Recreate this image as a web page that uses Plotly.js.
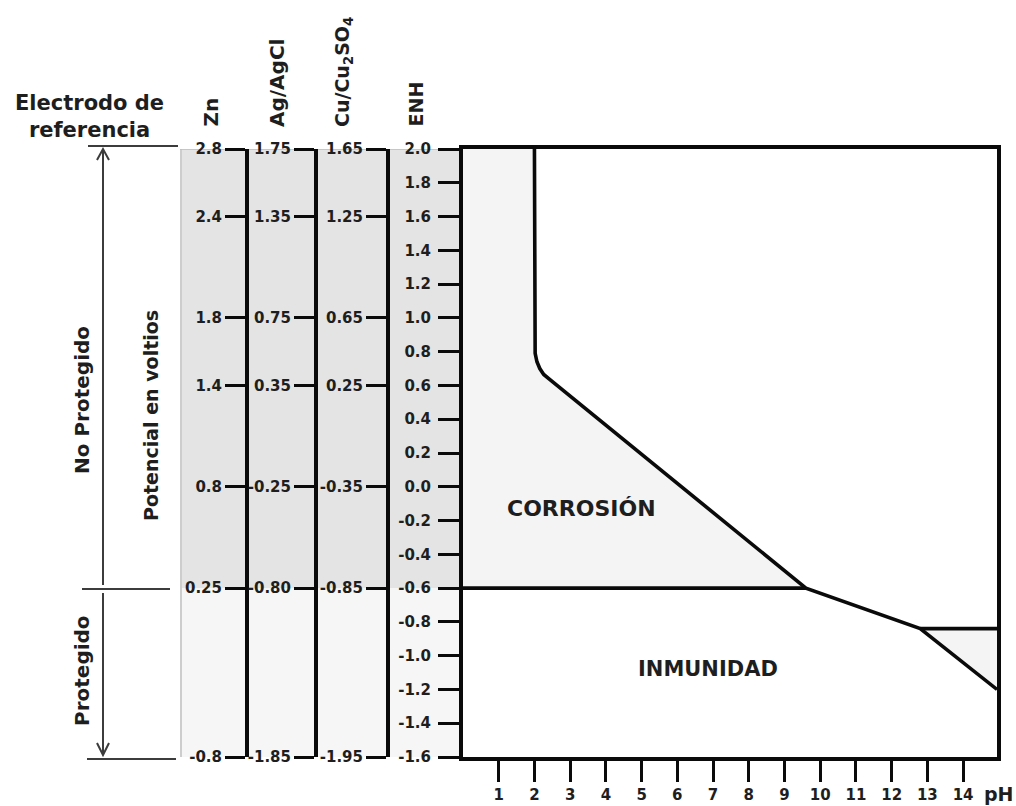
<!DOCTYPE html>
<html>
<head>
<meta charset="utf-8">
<script src="https://cdn.plot.ly/plotly-3.0.1.min.js"></script>
<style>
  html, body { margin: 0; padding: 0; background: #ffffff; }
  #chart { width: 1016px; height: 806px; }
</style>
</head>
<body>
<div id="chart"></div>
<script>
// pH axis ticks
const phTicks = [1, 2, 3, 4, 5, 6, 7, 8, 9, 10, 11, 12, 13, 14];

// Potential against the standard hydrogen electrode (ENH), volts
const enhTicks = [2.0, 1.8, 1.6, 1.4, 1.2, 1.0, 0.8, 0.6, 0.4, 0.2, 0.0,
                  -0.2, -0.4, -0.6, -0.8, -1.0, -1.2, -1.4, -1.6];

// Reference-electrode scales: ENH level of each mark and its label
const refLevels = [2.0, 1.6, 1.0, 0.6, 0.0, -0.6, -1.6];
const znLabels = ["2.8", "2.4", "1.8", "1.4", "0.8", "0.25", "-0.8"];
const agLabels = ["1.75", "1.35", "0.75", "0.35", "-0.25", "-0.80", "-1.85"];
const cuLabels = ["1.65", "1.25", "0.65", "0.25", "-0.35", "-0.85", "-1.95"];

// Corrosion / immunity boundary (pH, ENH volts)
const boundaryPH = [2.0, 2.0, 2.02, 2.07, 2.15, 2.26, 2.4, 9.6, 12.8, 14.95];
const boundaryE  = [2.0, 0.85, 0.79, 0.74, 0.70, 0.665, 0.64, -0.6, -0.84, -1.2];

// Protection limit at -0.6 V
const limitPH = [0, 9.6];
const limitE  = [-0.6, -0.6];

// Upper edge of the alkaline corrosion wedge
const wedgePH = [12.8, 14.95, 14.95];
const wedgeE  = [-0.84, -0.84, -1.2];

const W = 1016, H = 806;
const px = x => x / W;
const py = y => 1 - y / H;

const FONT = "DejaVu Sans, Verdana, sans-serif";
const INK = "#1e1e1e";
const boldFont = (size) => ({ family: FONT, size: size, color: INK, weight: "bold" });

// Corrosion region: left of the boundary down to the -0.6 V limit
const corrIdx = boundaryPH.indexOf(9.6);
const corrX = [0].concat(boundaryPH.slice(0, corrIdx + 1), [0]);
const corrY = [2.0].concat(boundaryE.slice(0, corrIdx + 1), [-0.6]);

const traces = [
  { x: corrX, y: corrY, mode: "lines", fill: "toself", fillcolor: "#f4f4f4",
    line: { width: 0 }, hoverinfo: "skip", showlegend: false },
  { x: wedgePH, y: wedgeE, mode: "lines", fill: "toself", fillcolor: "#f4f4f4",
    line: { width: 0 }, hoverinfo: "skip", showlegend: false },
  { x: boundaryPH, y: boundaryE, mode: "lines",
    line: { color: "#0a0a0a", width: 3.6 }, hoverinfo: "skip", showlegend: false },
  { x: limitPH, y: limitE, mode: "lines",
    line: { color: "#0a0a0a", width: 3.6 }, hoverinfo: "skip", showlegend: false },
  { x: wedgePH.slice(0, 2), y: wedgeE.slice(0, 2), mode: "lines",
    line: { color: "#0a0a0a", width: 3.6 }, hoverinfo: "skip", showlegend: false },
  // the three reference-electrode scales share the ENH range
  { x: [null], y: [null], yaxis: "y2", mode: "markers", hoverinfo: "skip", showlegend: false },
  { x: [null], y: [null], yaxis: "y3", mode: "markers", hoverinfo: "skip", showlegend: false },
  { x: [null], y: [null], yaxis: "y4", mode: "markers", hoverinfo: "skip", showlegend: false }
];

const yDomain = [py(757), py(149)];
const yRange = [-1.6, 2.0];

function refAxis(pos, labels) {
  return {
    overlaying: "y", anchor: "free", position: pos, side: "left",
    range: yRange, tickmode: "array", tickvals: refLevels, ticktext: labels,
    ticks: "outside", ticklen: 20, tickwidth: 3, tickcolor: "#0a0a0a",
    showline: true, linewidth: 4, linecolor: "#0a0a0a",
    showgrid: false, zeroline: false, fixedrange: true,
    tickfont: boldFont(15), ticklabelstandoff: 0
  };
}

const shapes = [
  // reference band behind the scales
  { type: "rect", xref: "paper", yref: "y", x0: px(180), x1: px(461), y0: -0.6, y1: 2.0,
    fillcolor: "#e4e4e4", line: { width: 0 }, layer: "below" },
  { type: "rect", xref: "paper", yref: "y", x0: px(180), x1: px(461), y0: -1.6, y1: -0.6,
    fillcolor: "#f6f6f6", line: { width: 0 }, layer: "below" },
  { type: "line", xref: "paper", yref: "y", x0: px(181), x1: px(181), y0: -1.6, y1: 2.0,
    line: { color: "#cdcdcd", width: 2 }, layer: "below" },
  { type: "line", xref: "paper", yref: "y", x0: px(180), x1: px(461), y0: 2.0, y1: 2.0,
    line: { color: "#bdbdbd", width: 1.5 }, layer: "below" },
  // guide lines of the protection legend
  { type: "line", xref: "paper", yref: "paper", x0: px(88), x1: px(178), y0: py(146), y1: py(146),
    line: { color: "#3c3c3c", width: 2 } },
  { type: "line", xref: "paper", yref: "paper", x0: px(82), x1: px(170), y0: py(589), y1: py(589),
    line: { color: "#3c3c3c", width: 2 } },
  { type: "line", xref: "paper", yref: "paper", x0: px(87), x1: px(176), y0: py(759), y1: py(759),
    line: { color: "#3c3c3c", width: 2 } },
  { type: "line", xref: "paper", yref: "paper", x0: px(103), x1: px(103), y0: py(149), y1: py(585),
    line: { color: "#3c3c3c", width: 2 } },
  { type: "line", xref: "paper", yref: "paper", x0: px(103), x1: px(103), y0: py(593), y1: py(755),
    line: { color: "#3c3c3c", width: 2 } },
  // arrow heads
  { type: "path", xref: "paper", yref: "paper",
    path: `M ${px(97)} ${py(160)} L ${px(103)} ${py(149)} L ${px(109)} ${py(160)}`,
    line: { color: "#3c3c3c", width: 2 } },
  { type: "path", xref: "paper", yref: "paper",
    path: `M ${px(97)} ${py(743)} L ${px(103)} ${py(755)} L ${px(109)} ${py(743)}`,
    line: { color: "#3c3c3c", width: 2 } }
];

const annotations = [
  { text: "Electrodo de<br>referencia", xref: "paper", yref: "paper", x: px(89), y: py(117),
    xanchor: "center", yanchor: "middle", showarrow: false, font: boldFont(21), align: "center" },
  { text: "Zn", xref: "paper", yref: "paper", x: px(210), y: py(129), textangle: -90,
    xanchor: "center", yanchor: "bottom", showarrow: false, font: boldFont(20) },
  { text: "Ag/AgCl", xref: "paper", yref: "paper", x: px(277), y: py(129), textangle: -90,
    xanchor: "center", yanchor: "bottom", showarrow: false, font: boldFont(20) },
  { text: "Cu/Cu<sub>2</sub>SO<sub>4</sub>", xref: "paper", yref: "paper", x: px(343), y: py(129),
    textangle: -90, xanchor: "center", yanchor: "bottom", showarrow: false, font: boldFont(19) },
  { text: "ENH", xref: "paper", yref: "paper", x: px(415), y: py(129), textangle: -90,
    xanchor: "center", yanchor: "bottom", showarrow: false, font: boldFont(19) },
  { text: "No Protegido", xref: "paper", yref: "paper", x: px(82), y: py(400), textangle: -90,
    xanchor: "center", yanchor: "middle", showarrow: false, font: boldFont(20) },
  { text: "Potencial en voltios", xref: "paper", yref: "paper", x: px(151), y: py(416), textangle: -90,
    xanchor: "center", yanchor: "middle", showarrow: false, font: boldFont(19) },
  { text: "Protegido", xref: "paper", yref: "paper", x: px(82), y: py(671), textangle: -90,
    xanchor: "center", yanchor: "middle", showarrow: false, font: boldFont(20) },
  { text: "CORROSIÓN", xref: "x", yref: "y", x: 3.32, y: -0.13,
    xanchor: "center", yanchor: "middle", showarrow: false, font: boldFont(22) },
  { text: "INMUNIDAD", xref: "x", yref: "y", x: 6.86, y: -1.08,
    xanchor: "center", yanchor: "middle", showarrow: false, font: boldFont(21) },
  { text: "pH", xref: "paper", yref: "paper", x: px(982), y: py(794),
    xanchor: "left", yanchor: "middle", showarrow: false, font: boldFont(19) }
];

const layout = {
  width: W, height: H,
  margin: { l: 0, r: 0, t: 0, b: 0, pad: 0 },
  paper_bgcolor: "#ffffff", plot_bgcolor: "#ffffff",
  showlegend: false,
  xaxis: {
    domain: [px(463), px(997)], range: [0, 14.95],
    tickmode: "array", tickvals: phTicks, ticktext: phTicks.map(String),
    ticks: "outside", ticklen: 21, tickwidth: 3, tickcolor: "#0a0a0a",
    showline: true, linewidth: 4, linecolor: "#0a0a0a", mirror: true,
    showgrid: false, zeroline: false, fixedrange: true,
    tickfont: boldFont(15)
  },
  yaxis: {
    domain: yDomain, range: yRange,
    tickmode: "array", tickvals: enhTicks, ticktext: enhTicks.map(v => v.toFixed(1)),
    ticks: "outside", ticklen: 21, tickwidth: 3, tickcolor: "#0a0a0a",
    showline: true, linewidth: 4, linecolor: "#0a0a0a", mirror: true,
    showgrid: false, zeroline: false, fixedrange: true,
    tickfont: boldFont(15), ticklabelstandoff: 4
  },
  yaxis2: refAxis(px(247), znLabels),
  yaxis3: refAxis(px(316), agLabels),
  yaxis4: refAxis(px(388), cuLabels),
  shapes: shapes,
  annotations: annotations
};

Plotly.newPlot("chart", traces, layout, { displayModeBar: false, staticPlot: true });
</script>
</body>
</html>
